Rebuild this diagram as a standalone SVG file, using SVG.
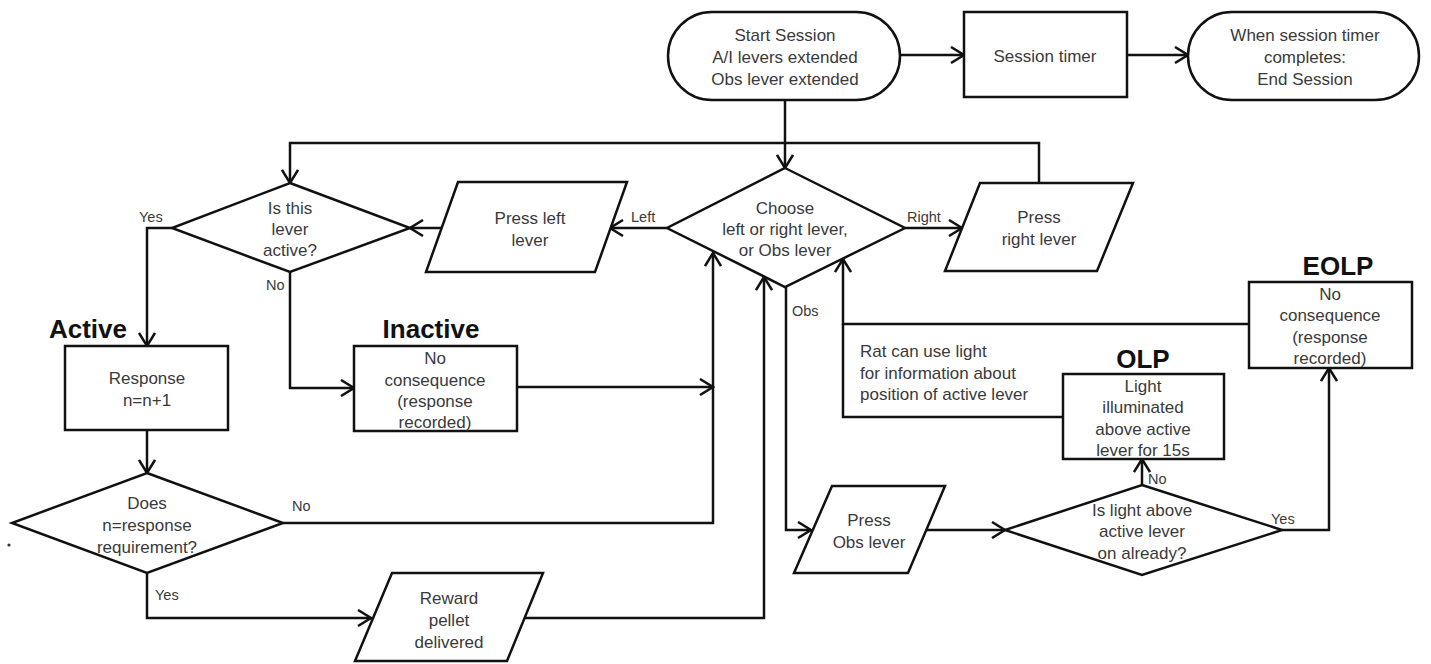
<svg xmlns="http://www.w3.org/2000/svg" width="1431" height="664" viewBox="0 0 1431 664">
<style>
.s{fill:#fff;stroke:#111;stroke-width:2.5}
.c{fill:none;stroke:#111;stroke-width:2.5}
.t{font-family:"Liberation Sans",Arial,sans-serif;font-size:17px;fill:#3a3a3a;text-anchor:middle}
.l{font-family:"Liberation Sans",Arial,sans-serif;font-size:14.5px;fill:#3a3a3a}
.b{font-family:"Liberation Sans",Arial,sans-serif;font-size:26px;font-weight:bold;fill:#111;text-anchor:middle}
</style>
<defs>
<marker id="a" markerWidth="16" markerHeight="18" refX="14" refY="9" orient="auto" markerUnits="userSpaceOnUse">
<path d="M1,1 L14,9 L1,17" fill="none" stroke="#111" stroke-width="2.5"/>
</marker>
</defs>
<rect width="1431" height="664" fill="#fff"/>

<g id="connectors">
<path class="c" d="M900,55 L964,55" marker-end="url(#a)"/>
<path class="c" d="M1127,55 L1188,55" marker-end="url(#a)"/>
<path class="c" d="M785,100 L785,168" marker-end="url(#a)"/>
<path class="c" d="M1039,183 L1039,143 L290,143 L290,183" marker-end="url(#a)"/>
<path class="c" d="M667,228 L610,228" marker-end="url(#a)"/>
<path class="c" d="M905,228 L962,228" marker-end="url(#a)"/>
<path class="c" d="M442,228 L410,228" marker-end="url(#a)"/>
<path class="c" d="M172,228 L147,228 L147,346" marker-end="url(#a)"/>
<path class="c" d="M290,272 L290,388 L354,388" marker-end="url(#a)"/>
<path class="c" d="M517,387 L713,387" marker-end="url(#a)"/>
<path class="c" d="M147,430 L147,473" marker-end="url(#a)"/>
<path class="c" d="M283,523 L713,523 L713,253" marker-end="url(#a)"/>
<path class="c" d="M147,573 L147,618 L371,618" marker-end="url(#a)"/>
<path class="c" d="M525,618 L764,618 L764,277" marker-end="url(#a)"/>
<path class="c" d="M786,287 L786,530 L811,530" marker-end="url(#a)"/>
<path class="c" d="M926,530 L1005,530" marker-end="url(#a)"/>
<path class="c" d="M1142,485 L1142,459" marker-end="url(#a)"/>
<path class="c" d="M1282,530 L1329,530 L1329,368" marker-end="url(#a)"/>
<path class="c" d="M1249,324 L843,324 L843,259" marker-end="url(#a)"/>
<path class="c" d="M1063,417 L843,417 L843,324"/>
<text class="l" x="139" y="222">Yes</text>
<text class="l" x="266" y="290">No</text>
<text class="l" x="631" y="222">Left</text>
<text class="l" x="907" y="222">Right</text>
<text class="l" x="792" y="316">Obs</text>
<text class="l" x="292" y="511">No</text>
<text class="l" x="155" y="600">Yes</text>
<text class="l" x="1148" y="484">No</text>
<text class="l" x="1271" y="524">Yes</text>
<text class="t" x="860" y="357" style="text-anchor:start">Rat can use light</text>
<text class="t" x="860" y="379" style="text-anchor:start">for information about</text>
<text class="t" x="860" y="400" style="text-anchor:start">position of active lever</text>
</g>

<g id="start">
<rect class="s" x="668" y="12" width="232" height="88" rx="44"/>
<text class="t" x="785" y="41">Start Session</text>
<text class="t" x="785" y="63">A/I levers extended</text>
<text class="t" x="785" y="85">Obs lever extended</text>
</g>
<g id="timer">
<rect class="s" x="964" y="12" width="163" height="85"/>
<text class="t" x="1045" y="62">Session timer</text>
</g>
<g id="end">
<rect class="s" x="1188" y="12" width="231" height="88" rx="44"/>
<text class="t" x="1305" y="41">When session timer</text>
<text class="t" x="1305" y="63">completes:</text>
<text class="t" x="1305" y="85">End Session</text>
</g>
<g id="choose">
<polygon class="s" points="785,168 905,228 785,287 667,228"/>
<text class="t" x="785" y="214">Choose</text>
<text class="t" x="785" y="235">left or right lever,</text>
<text class="t" x="785" y="256">or Obs lever</text>
</g>
<g id="press-left">
<polygon class="s" points="458,182 627,182 595,272 426,272"/>
<text class="t" x="530" y="224">Press left</text>
<text class="t" x="530" y="246">lever</text>
</g>
<g id="press-right">
<polygon class="s" points="980,183 1133,183 1097,271 945,271"/>
<text class="t" x="1039" y="223">Press</text>
<text class="t" x="1039" y="245">right lever</text>
</g>
<g id="is-active">
<polygon class="s" points="290,183 410,228 290,272 172,228"/>
<text class="t" x="290" y="214">Is this</text>
<text class="t" x="290" y="235">lever</text>
<text class="t" x="290" y="256">active?</text>
</g>
<g id="active">
<text class="b" x="88" y="338">Active</text>
<rect class="s" x="65" y="346" width="163" height="84"/>
<text class="t" x="147" y="384">Response</text>
<text class="t" x="147" y="406">n=n+1</text>
</g>
<g id="inactive">
<text class="b" x="431" y="338">Inactive</text>
<rect class="s" x="354" y="346" width="163" height="85"/>
<text class="t" x="435" y="364">No</text>
<text class="t" x="435" y="386">consequence</text>
<text class="t" x="435" y="407">(response</text>
<text class="t" x="435" y="428">recorded)</text>
</g>
<g id="does">
<polygon class="s" points="147,473 283,523 147,573 12,523"/>
<text class="t" x="147" y="509">Does</text>
<text class="t" x="147" y="531">n=response</text>
<text class="t" x="147" y="553">requirement?</text>
</g>
<circle cx="9" cy="545" r="1.6" fill="#333"/>
<g id="reward">
<polygon class="s" points="392,573 543,573 507,661 355,661"/>
<text class="t" x="449" y="604">Reward</text>
<text class="t" x="449" y="626">pellet</text>
<text class="t" x="449" y="648">delivered</text>
</g>
<g id="press-obs">
<polygon class="s" points="832,486 945,486 908,573 794,573"/>
<text class="t" x="869" y="526">Press</text>
<text class="t" x="869" y="548">Obs lever</text>
</g>
<g id="is-light">
<polygon class="s" points="1142,485 1282,530 1142,575 1005,530"/>
<text class="t" x="1142" y="516">Is light above</text>
<text class="t" x="1142" y="537">active lever</text>
<text class="t" x="1142" y="559">on already?</text>
</g>
<g id="olp">
<text class="b" x="1143" y="368">OLP</text>
<rect class="s" x="1063" y="374" width="161" height="85"/>
<text class="t" x="1143" y="392">Light</text>
<text class="t" x="1143" y="413">illuminated</text>
<text class="t" x="1143" y="435">above active</text>
<text class="t" x="1143" y="456">lever for 15s</text>
</g>
<g id="eolp">
<text class="b" x="1338" y="275">EOLP</text>
<rect class="s" x="1249" y="282" width="163" height="86"/>
<text class="t" x="1330" y="300">No</text>
<text class="t" x="1330" y="321">consequence</text>
<text class="t" x="1330" y="343">(response</text>
<text class="t" x="1330" y="364">recorded)</text>
</g>
</svg>
